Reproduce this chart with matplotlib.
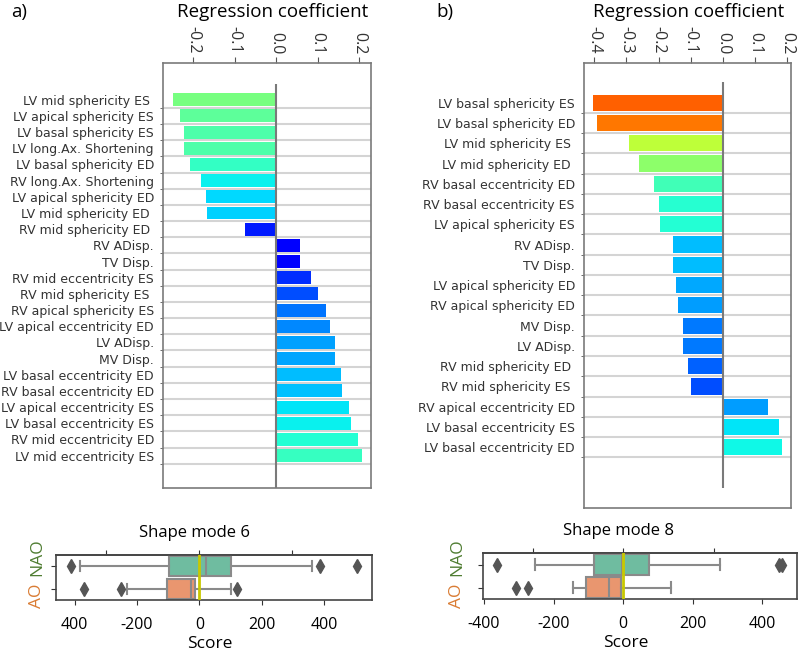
import numpy as np
import matplotlib
matplotlib.use("Agg")
import matplotlib.pyplot as plt

# regression coefficients, shape mode 6 (panel a)
labels_a = ["LV mid sphericity ES ", "LV apical sphericity ES", "LV basal sphericity ES",
            "LV long.Ax. Shortening", "LV basal sphericity ED", "RV long.Ax. Shortening",
            "LV apical sphericity ED", "LV mid sphericity ED ", "RV mid sphericity ED ",
            "RV ADisp.", "TV Disp.", "RV mid eccentricity ES", "RV mid sphericity ES ",
            "RV apical sphericity ES", "LV apical eccentricity ED", "LV ADisp.", "MV Disp.",
            "LV basal eccentricity ED", "RV basal eccentricity ED", "LV apical eccentricity ES",
            "LV basal eccentricity ES", "RV mid eccentricity ED", "LV mid eccentricity ES"]
coef_a = [-0.247, -0.231, -0.221, -0.221, -0.207, -0.181, -0.169, -0.166, -0.075,
          0.058, 0.058, 0.084, 0.100, 0.120, 0.130, 0.142, 0.143, 0.156, 0.158,
          0.175, 0.180, 0.197, 0.208]

# regression coefficients, shape mode 8 (panel b)
labels_b = ["LV basal sphericity ES", "LV basal sphericity ED", "LV mid sphericity ES ",
            "LV mid sphericity ED ", "RV basal eccentricity ED", "RV basal eccentricity ES",
            "LV apical sphericity ES", "RV ADisp.", "TV Disp.", "LV apical sphericity ED",
            "RV apical sphericity ED", "MV Disp.", "LV ADisp.", "RV mid sphericity ED ",
            "RV mid sphericity ES ", "RV apical eccentricity ED", "LV basal eccentricity ES",
            "LV basal eccentricity ED"]
coef_b = [-0.403, -0.391, -0.291, -0.260, -0.213, -0.199, -0.196, -0.156, -0.156,
          -0.146, -0.140, -0.123, -0.123, -0.110, -0.100, 0.139, 0.175, 0.184]

# box plot summaries of the scores (q1, median, q3, whisker low/high, outliers)
groups = ["NAO", "AO"]
group_colors = ["#4f7d32", "#d97b33"]
box6_nao = dict(q1=-97, med=20, q3=100, whislo=-383, whishi=361, fliers=[-413, 388, 507])
box6_ao = dict(q1=-105, med=-27, q3=-15, whislo=-233, whishi=101, fliers=[-369, -253, 121])
box8_nao = dict(q1=-84, med=-2, q3=74, whislo=-253, whishi=280, fliers=[-362, 449, 458])
box8_ao = dict(q1=-108, med=-40, q3=-7, whislo=-144, whishi=139, fliers=[-307, -274])

W, H = 799, 656
fig = plt.figure(figsize=(W / 100, H / 100), dpi=100)
calib = "Open Sans"


def px_axes(l, t, r, b):
    return fig.add_axes([l / W, 1 - b / H, (r - l) / W, (b - t) / H])


def bar_panel(ax, labels, coef, xlim, ylim, xticks):
    n = len(coef)
    pos = np.arange(n)
    colors = plt.cm.jet(np.abs(coef) / 0.5)
    ax.barh(pos, coef, height=0.8, color=colors, zorder=2)
    ax.vlines(0, -1, n + 1, color="#7a7a7a", lw=1.5, zorder=3)
    ax.set_xlim(*xlim)
    ax.set_ylim(*ylim)
    ax.set_yticks(pos)
    ax.set_yticklabels(labels, fontsize=9, color="#333333")
    ax.set_yticks(pos + 0.5, minor=True)
    ax.tick_params(axis="y", which="major", length=0, pad=6.5)
    ax.tick_params(axis="y", which="minor", length=2.5, color="#555555")
    ax.grid(axis="y", which="minor", color="#d4d4d4", lw=1.5, zorder=0)
    ax.xaxis.tick_top()
    ax.set_xticks(xticks)
    ax.set_xticklabels(["%.1f" % t for t in xticks], rotation=-90, fontsize=11.5,
                       family=calib, color="#333333")
    ax.tick_params(axis="x", length=4, pad=2.5, color="#555555")
    for s in ax.spines.values():
        s.set_color("#7a7a7a")
        s.set_linewidth(1.2)


ax1 = px_axes(163, 63, 371, 488)
bar_panel(ax1, labels_a, coef_a, (-0.2723, 0.2289), (24.0, -2.27),
          [-0.2, -0.1, 0.0, 0.1, 0.2])
ax2 = px_axes(584, 63, 791, 508)
bar_panel(ax2, labels_b, coef_b, (-0.4317, 0.2112), (20.0, -1.96),
          [-0.4, -0.3, -0.2, -0.1, 0.0, 0.1, 0.2])

fig.text(273 / W, 1 - 12 / H, "Regression coefficient", ha="center", va="center",
         fontsize=13.5, family=calib)
fig.text(689 / W, 1 - 12 / H, "Regression coefficient", ha="center", va="center",
         fontsize=13.5, family=calib)
fig.text(11 / W, 1 - 12 / H, "a)", ha="left", va="center", fontsize=13.5, family=calib)
fig.text(436 / W, 1 - 12 / H, "b)", ha="left", va="center", fontsize=13.5, family=calib)


def box_panel(ax, stats, title, xlim, xticks, xticklabels, topticks, title_x, label_x, ylab_x):
    cols = ["#6fbca0", "#e9966f"]
    bx = ax.bxp(stats, positions=[0, 1], vert=False, widths=0.9, patch_artist=True,
                showfliers=True,
                boxprops=dict(edgecolor="#8a8a8a", lw=1.5),
                whiskerprops=dict(color="#8a8a8a", lw=1.5),
                capprops=dict(color="#8a8a8a", lw=1.5),
                medianprops=dict(color="#8a8a8a", lw=1.5),
                flierprops=dict(marker="d", markersize=7, markerfacecolor="#555555",
                                markeredgecolor="#555555"))
    for patch, c in zip(bx["boxes"], cols):
        patch.set_facecolor(c)
    ax.axvline(0, color="#c8c800", lw=2, zorder=5)
    ax.set_xlim(*xlim)
    ax.set_ylim(1.5, -0.5)
    ax.set_yticks([0, 1])
    ax.set_yticklabels([])
    # group names sit spread out beside the small axis
    for g, c, yp in zip(groups, group_colors, [557, 596]):
        fig.text(ylab_x / W, 1 - yp / H, g, rotation=90, ha="center", va="center",
                 fontsize=12.5, family=calib, color=c)
    ax.set_xticks(xticks)
    ax.set_xticklabels(xticklabels, fontsize=11.5, family=calib)
    ax.tick_params(length=3.5, color="#333333")
    ax.tick_params(axis="x", pad=9)
    ax.set_xlabel("Score", fontsize=12.5, family=calib, labelpad=2, x=label_x)
    ax.set_title(title, fontsize=12, family=calib, pad=13, x=title_x)
    top = ax.secondary_xaxis("top")
    top.set_xticks(topticks)
    top.set_xticklabels([])
    top.tick_params(length=3.5, color="#333333")
    for s in list(ax.spines.values()) + list(top.spines.values()):
        s.set_color("#444444")
        s.set_linewidth(1.2)


def mk(d, lbl):
    d = dict(d)
    d["label"] = lbl
    return d


ax3 = px_axes(56, 555, 372, 600)
box_panel(ax3, [mk(box6_nao, "NAO"), mk(box6_ao, "AO")], "Shape mode 6", (-460, 554),
          [-400, -200, 0, 200, 400], ["400", "-200", "0", "200", "400"], [-298, 0, 298],
          0.437, 0.487, 37)
ax4 = px_axes(483, 553, 797, 599)
box_panel(ax4, [mk(box8_nao, "NAO"), mk(box8_ao, "AO")], "Shape mode 8", (-403, 500),
          [-400, -200, 0, 200, 400], ["-400", "-200", "0", "200", "400"], [-260, 0, 260],
          0.433, 0.455, 457)

fig.savefig("out.png", dpi=100)
